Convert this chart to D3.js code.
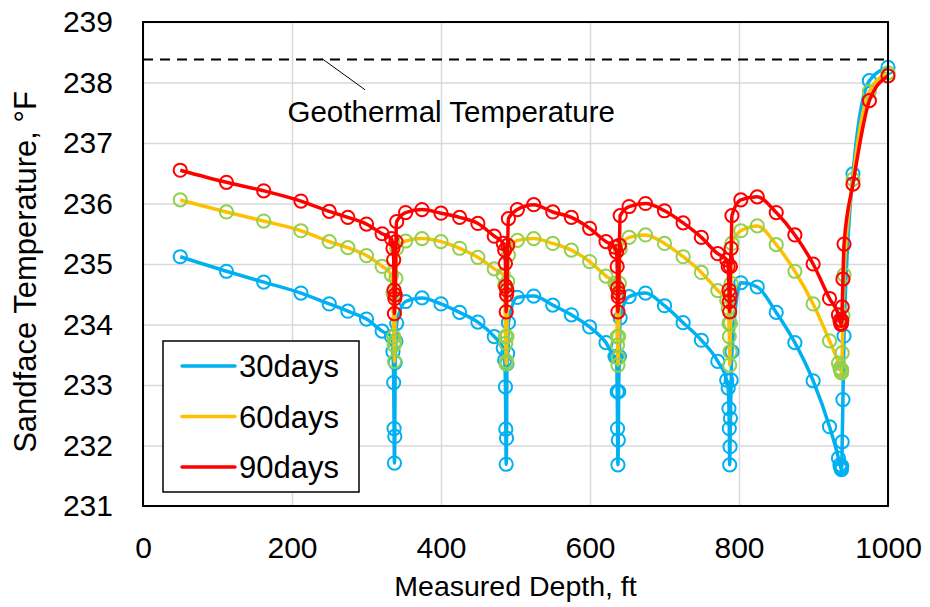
<!DOCTYPE html>
<html>
<head>
<meta charset="utf-8">
<script src="https://cdn.jsdelivr.net/npm/d3@7"></script>
<style>
  body { margin: 0; background: #fff; }
  text { font-family: "Liberation Sans", Arial, sans-serif; fill: #000; }
</style>
</head>
<body>
<svg width="930" height="607"></svg>
<script>
// depth grid (ft) shared by the three runs, refined around each fracture
var depth = [
  50, 112, 162, 212, 250, 275, 300, 321, 333.5,
  335.5, 336.5, 337, 337.5, 338, 338.5, 339.5, 340.5,
  352.5, 374.5, 400, 425, 449.5, 471.5, 483.5,
  485.5, 486.5, 487, 487.5, 488, 488.5, 489.5, 490.5,
  502.5, 524.5, 550, 575, 599.5, 621.5, 633.5,
  635.5, 636.5, 637, 637.5, 638, 638.5, 639.5, 640.5,
  652.5, 674.5, 700, 725, 749.5, 771.5, 783.5,
  785.5, 786.5, 787, 787.5, 788, 788.5, 789.5, 790.5,
  802.5, 824.5, 850, 875, 899.5, 921.5, 933.5,
  935.5, 936.5, 937, 937.5, 938, 938.5, 939.5, 941,
  953, 975, 1000
];

// sandface temperature, degF
var temp30 = [
  235.12, 234.88, 234.70, 234.52, 234.34, 234.22, 234.09, 233.89, 233.80,
  233.55, 233.04, 232.28, 231.71, 232.15, 233.37, 233.72, 234.02,
  234.38, 234.44, 234.34, 234.20, 234.04, 233.80, 233.61,
  233.41, 232.97, 232.27, 231.69, 232.12, 233.35, 233.52, 234.03,
  234.45, 234.47, 234.32, 234.16, 233.96, 233.70, 233.47,
  233.47, 232.89, 232.28, 231.68, 232.09, 232.89, 233.47, 234.11,
  234.46, 234.52, 234.31, 234.03, 233.74, 233.39, 233.08,
  232.95, 232.61, 232.28, 231.68, 231.98, 232.45, 233.08, 233.55,
  234.69, 234.62, 234.20, 233.70, 233.07, 232.31, 231.79,
  231.68, 231.64, 231.62, 231.60, 231.66, 232.06, 232.76, 233.81,
  236.49, 238.03, 238.25
];
var temp60 = [
  236.06, 235.86, 235.71, 235.55, 235.37, 235.27, 235.14, 234.96, 234.82,
  234.52, 233.80, 233.66, 233.39, 233.72, 234.49, 234.76, 235.26,
  235.38, 235.42, 235.37, 235.26, 235.11, 234.92, 234.82,
  234.65, 233.80, 233.69, 233.35, 233.39, 233.80, 234.71, 235.15,
  235.39, 235.42, 235.34, 235.23, 235.04, 234.80, 234.68,
  234.63, 233.80, 233.66, 233.33, 233.45, 233.80, 234.68, 235.25,
  235.44, 235.48, 235.34, 235.12, 234.86, 234.56, 234.40,
  234.27, 234.02, 233.80, 233.33, 233.55, 234.02, 234.68, 235.34,
  235.55, 235.63, 235.32, 234.88, 234.34, 233.73, 233.36,
  233.28, 233.25, 233.22, 233.20, 233.25, 233.53, 234.15, 234.82,
  236.40, 237.85, 238.16
];
var temp90 = [
  236.55, 236.35, 236.21, 236.04, 235.87, 235.77, 235.66, 235.50, 235.42,
  235.26, 235.07, 234.57, 234.18, 234.43, 234.49, 235.37, 235.70,
  235.85, 235.90, 235.84, 235.77, 235.67, 235.46, 235.34,
  235.23, 235.01, 234.63, 234.21, 234.49, 234.57, 235.31, 235.75,
  235.90, 235.98, 235.86, 235.77, 235.59, 235.37, 235.28,
  235.20, 234.96, 234.60, 234.21, 234.46, 234.52, 235.31, 235.80,
  235.95, 236.00, 235.88, 235.68, 235.44, 235.17, 235.07,
  234.96, 234.57, 234.38, 234.21, 234.49, 234.96, 235.26, 235.80,
  236.06, 236.11, 235.85, 235.48, 235.00, 234.43, 234.16,
  234.07, 234.02, 234.00, 234.02, 234.07, 234.29, 234.75, 235.33,
  236.32, 237.70, 238.11
];

var seriesNames = ["30days", "60days", "90days"];
var geoTemp = 238.38;
var xTicks = [0, 200, 400, 600, 800, 1000];
var yTicks = [231, 232, 233, 234, 235, 236, 237, 238, 239];

// 画布与比例尺
var svg = d3.select("svg");
var pL = 143, pR = 888, pT = 22, pB = 506;
var x = d3.scaleLinear().domain([0, 1000]).range([pL, pR]);
var y = d3.scaleLinear().domain([231, 239]).range([pB, pT]);

var styles = [
  { line: "#00b0f0", marker: "#00b0f0" },
  { line: "#ffc000", marker: "#92d050" },
  { line: "#ff0000", marker: "#ff0000" }
];
var series = [temp30, temp60, temp90].map(function (t, i) {
  return { name: seriesNames[i], style: styles[i],
           pts: depth.map(function (d, j) { return [d, t[j]]; }) };
});

// 网格线
svg.append("g")
  .attr("transform", "translate(0," + pB + ")")
  .call(d3.axisBottom(x).tickValues(xTicks).tickSize(-(pB - pT)).tickFormat(""))
  .call(function (g) { g.select(".domain").remove(); })
  .selectAll("line").attr("stroke", "#d9d9d9").attr("stroke-width", 1.5);
svg.append("g")
  .attr("transform", "translate(" + pL + ",0)")
  .call(d3.axisLeft(y).tickValues(yTicks).tickSize(-(pR - pL)).tickFormat(""))
  .call(function (g) { g.select(".domain").remove(); })
  .selectAll("line").attr("stroke", "#d9d9d9").attr("stroke-width", 1.5);

// 刻度标签
svg.append("g")
  .attr("transform", "translate(0," + pB + ")")
  .call(d3.axisBottom(x).tickValues(xTicks).tickSize(0).tickPadding(31).tickFormat(d3.format("d")))
  .call(function (g) { g.select(".domain").remove(); })
  .selectAll("text").attr("font-size", 30).attr("font-family", null);
svg.append("g")
  .attr("transform", "translate(" + pL + ",0)")
  .call(d3.axisLeft(y).tickValues(yTicks).tickSize(0).tickPadding(30).tickFormat(d3.format("d")))
  .call(function (g) { g.select(".domain").remove(); })
  .selectAll("text").attr("font-size", 30).attr("font-family", null);

// 地热温度线
svg.append("line")
  .attr("x1", pL).attr("x2", pR)
  .attr("y1", y(geoTemp)).attr("y2", y(geoTemp))
  .attr("stroke", "#000").attr("stroke-width", 2).attr("stroke-dasharray", "10,7");
svg.append("line")
  .attr("x1", x(240)).attr("y1", y(geoTemp) - 1)
  .attr("x2", x(298)).attr("y2", y(237.88))
  .attr("stroke", "#000").attr("stroke-width", 1);
svg.append("text")
  .attr("x", x(194)).attr("y", 122)
  .attr("font-size", 29.5)
  .text("Geothermal Temperature");

// 曲线与标记
var line = d3.line()
  .x(function (d) { return x(d[0]); })
  .y(function (d) { return y(d[1]); })
  .curve(d3.curveMonotoneX);

series.forEach(function (s) {
  var g = svg.append("g");
  g.append("path")
    .attr("d", line(s.pts))
    .attr("fill", "none")
    .attr("stroke", s.style.line)
    .attr("stroke-width", 3.5)
    .attr("stroke-linejoin", "round");
  g.selectAll("circle")
    .data(s.pts)
    .enter()
    .append("circle")
    .attr("cx", function (d) { return x(d[0]); })
    .attr("cy", function (d) { return y(d[1]); })
    .attr("r", 6.6)
    .attr("fill", "none")
    .attr("stroke", s.style.marker)
    .attr("stroke-width", 2);
});

// 绘图区边框
svg.append("rect")
  .attr("x", pL).attr("y", pT)
  .attr("width", pR - pL).attr("height", pB - pT)
  .attr("fill", "none").attr("stroke", "#000").attr("stroke-width", 2);

// 坐标轴标题
svg.append("text")
  .attr("x", (pL + pR) / 2).attr("y", 596)
  .attr("text-anchor", "middle").attr("font-size", 28.5)
  .text("Measured Depth, ft");
svg.append("text")
  .attr("transform", "translate(36,272) rotate(-90)")
  .attr("text-anchor", "middle").attr("font-size", 31)
  .text("Sandface Temperature, °F");

// 图例
var legend = svg.append("g");
legend.append("rect")
  .attr("x", 163).attr("y", 341).attr("width", 196).attr("height", 151)
  .attr("fill", "#fff").attr("stroke", "#000").attr("stroke-width", 1.5);
series.forEach(function (s, i) {
  var ly = 366 + i * 50.5;
  legend.append("line")
    .attr("x1", 182).attr("x2", 235).attr("y1", ly).attr("y2", ly)
    .attr("stroke", s.style.line).attr("stroke-width", 3.5).attr("stroke-linecap", "round");
  legend.append("text")
    .attr("x", 239).attr("y", ly + 11)
    .attr("font-size", 31)
    .text(s.name);
});
</script>
</body>
</html>
